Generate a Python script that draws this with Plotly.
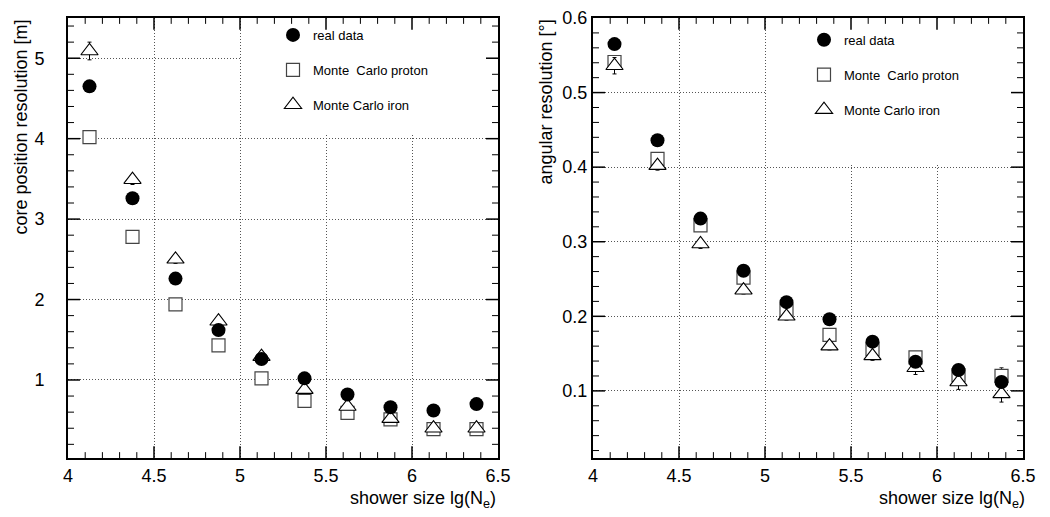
import plotly.graph_objects as go

# ---------------- data ----------------
x_bins = [4.125, 4.375, 4.625, 4.875, 5.125, 5.375, 5.625, 5.875, 6.125, 6.375]

core_real = [4.65, 3.26, 2.26, 1.62, 1.26, 1.02, 0.82, 0.66, 0.62, 0.70]
core_proton = [4.02, 2.78, 1.94, 1.43, 1.02, 0.74, 0.59, 0.51, 0.39, 0.39]
core_iron = [5.09, 3.49, 2.50, 1.73, 1.29, 0.88, 0.67, 0.52, 0.40, 0.40]
core_iron_err = [0.11, 0.06, 0.05, 0.04, 0.04, 0.03, 0.03, 0.02, 0.02, 0.02]

ang_real = [0.565, 0.436, 0.331, 0.261, 0.219, 0.196, 0.166, 0.139, 0.128, 0.112]
ang_proton = [0.541, 0.411, 0.322, 0.252, 0.208, 0.175, 0.156, 0.145, 0.121, 0.120]
ang_proton_err = [0.006, 0.005, 0.005, 0.004, 0.004, 0.004, 0.004, 0.004, 0.005, 0.011]
ang_iron = [0.536, 0.402, 0.297, 0.235, 0.200, 0.160, 0.147, 0.131, 0.112, 0.096]
ang_iron_err = [0.011, 0.006, 0.006, 0.005, 0.005, 0.005, 0.006, 0.009, 0.010, 0.011]

label_real = "real data"
label_proton = "Monte\u00a0\u00a0Carlo proton"
label_iron = "Monte Carlo iron"

# tick positions (axis decoration)
x_major = [4.5, 5.0, 5.5, 6.0]
x_minor = [round(4 + 0.1 * i, 2) for i in range(1, 25) if i % 5 != 0]
core_major = [1, 2, 3, 4, 5]
core_minor = [round(0.2 * i, 2) for i in range(1, 28) if i % 5 != 0]
ang_major = [0.1, 0.2, 0.3, 0.4, 0.5]
ang_minor = [round(0.02 * i, 3) for i in range(1, 30) if i % 5 != 0]

FONT = "Liberation Sans, Arial, Helvetica, sans-serif"

fig = go.Figure()

def add_panel(xa, ya, legend, real, proton, iron, proton_err, iron_err):
    fig.add_trace(go.Scatter(
        x=x_bins, y=proton, mode="markers", name=label_proton,
        xaxis=xa, yaxis=ya, legend=legend, legendgroup=legend + "p", legendrank=2,
        marker=dict(symbol="square", size=13, color="white", line=dict(width=1.2, color="#444444")),
        error_y=dict(type="data", array=proton_err if proton_err is not None else [0] * len(x_bins),
                     visible=proton_err is not None, color="#222222", thickness=1, width=2),
    ))
    fig.add_trace(go.Scatter(
        x=x_bins, y=iron, mode="markers", name=label_iron,
        xaxis=xa, yaxis=ya, legend=legend, legendgroup=legend + "i", legendrank=3,
        marker=dict(symbol="triangle-up", size=15, color="white",
                    line=dict(width=1.1, color="black")),
        error_y=dict(type="data", array=iron_err, color="black", thickness=1, width=2),
    ))
    fig.add_trace(go.Scatter(
        x=x_bins, y=real, mode="markers", name=label_real,
        xaxis=xa, yaxis=ya, legend=legend, legendgroup=legend + "r", legendrank=1,
        marker=dict(symbol="circle", size=14, color="black"),
    ))

add_panel("x", "y", "legend", core_real, core_proton, core_iron, None, core_iron_err)
add_panel("x2", "y2", "legend2", ang_real, ang_proton, ang_iron, ang_proton_err, ang_iron_err)

L, R, T, B = 68, 27, 8, 59
W, H = 1050, 517
pw = W - L - R
ph = H - T - B
dom1 = [0, (498 - L) / pw]
dom2 = [(593 - L) / pw, 1]
panel_w = 430

X_RANGE = [4, 6.5]
CORE_RANGE = [0.03, 5.5]
ANG_RANGE = [0.01, 0.6]


def main_axis(rng, tick0, dtick, domain, anchor, suffix=""):
    return dict(
        domain=domain, range=rng, anchor=anchor,
        tickmode="linear", tick0=tick0, dtick=dtick, ticksuffix=suffix,
        showline=True, linecolor="black", linewidth=2, mirror=True,
        ticks="",
        showgrid=True, gridcolor="#555555", gridwidth=1, griddash="1px,2px",
        zeroline=False,
        tickfont=dict(family=FONT, size=18, color="black"),
    )


fig.update_layout(
    width=W, height=H,
    margin=dict(l=L, r=R, t=T, b=B),
    paper_bgcolor="white", plot_bgcolor="white",
    font=dict(family=FONT, color="black"),
    xaxis=main_axis(X_RANGE, 4, 0.5, dom1, "y"),
    yaxis=main_axis(CORE_RANGE, 0, 1, [0, 1], "x", "\u2002\u2002"),
    xaxis2=main_axis(X_RANGE, 4, 0.5, dom2, "y2"),
    yaxis2=main_axis(ANG_RANGE, 0, 0.1, [0, 1], "x2"),
    legend=dict(x=(273 - L) / pw, y=(H - B - 10) / ph, xanchor="left", yanchor="top",
                bgcolor="rgba(0,0,0,0)", traceorder="grouped", tracegroupgap=15,
                font=dict(family=FONT, size=13, color="black"), itemclick=False),
    legend2=dict(x=(804 - L) / pw, y=(H - B - 15) / ph, xanchor="left", yanchor="top",
                 bgcolor="rgba(0,0,0,0)", traceorder="grouped", tracegroupgap=15,
                 font=dict(family=FONT, size=13, color="black"), itemclick=False),
    showlegend=True,
)

# white boxes behind the legends hiding the grid (as in the original)
fig.add_shape(type="rect", xref="x", yref="y", x0=5.006, x1=6.49, y0=4.06, y1=5.49,
              fillcolor="white", line=dict(width=0), layer="between")
fig.add_shape(type="rect", xref="x2", yref="y2", x0=5.006, x1=6.49, y0=0.404, y1=0.599,
              fillcolor="white", line=dict(width=0), layer="between")


# inward tick marks on all four sides of a frame
def add_ticks(xr, yr, xmaj, xmin, ymaj, ymin):
    shapes = []
    for vals, ln, wd in ((xmin, 6, 1), (xmaj, 12, 1.5)):
        fy = ln / ph
        for v in vals:
            for y0, y1 in ((0, fy), (1, 1 - fy)):
                shapes.append(dict(type="line", xref=xr, yref=yr + " domain", x0=v, x1=v,
                                   y0=y0, y1=y1, line=dict(color="black", width=wd), layer="above"))
    for vals, ln, wd in ((ymin, 6, 1), (ymaj, 12, 1.5)):
        fx = ln / panel_w
        for v in vals:
            for x0, x1 in ((0, fx), (1, 1 - fx)):
                shapes.append(dict(type="line", xref=xr + " domain", yref=yr, x0=x0, x1=x1,
                                   y0=v, y1=v, line=dict(color="black", width=wd), layer="above"))
    for s in shapes:
        fig.add_shape(**s)


add_ticks("x", "y", x_major, x_minor, core_major, core_minor)
add_ticks("x2", "y2", x_major, x_minor, ang_major, ang_minor)

# axis titles
for xr in (498, 1027):
    fig.add_annotation(text="shower size lg(N<sub>e</sub>)", xref="paper", yref="paper",
                       x=(xr - L) / pw, xanchor="right", y=-(500 - (H - B)) / ph, yanchor="middle",
                       showarrow=False, font=dict(family=FONT, size=18, color="black"))
fig.add_annotation(text="core position resolution [m]", xref="paper", yref="paper",
                   x=(20 - L) / pw, xanchor="center", y=(H - B - 8) / ph, yanchor="top",
                   textangle=-90, showarrow=False, font=dict(family=FONT, size=18, color="black"))
fig.add_annotation(text="angular resolution [°]", xref="paper", yref="paper",
                   x=(545 - L) / pw, xanchor="center", y=(H - B - 8) / ph, yanchor="top",
                   textangle=-90, showarrow=False, font=dict(family=FONT, size=18, color="black"))

fig.write_html("out.html")
